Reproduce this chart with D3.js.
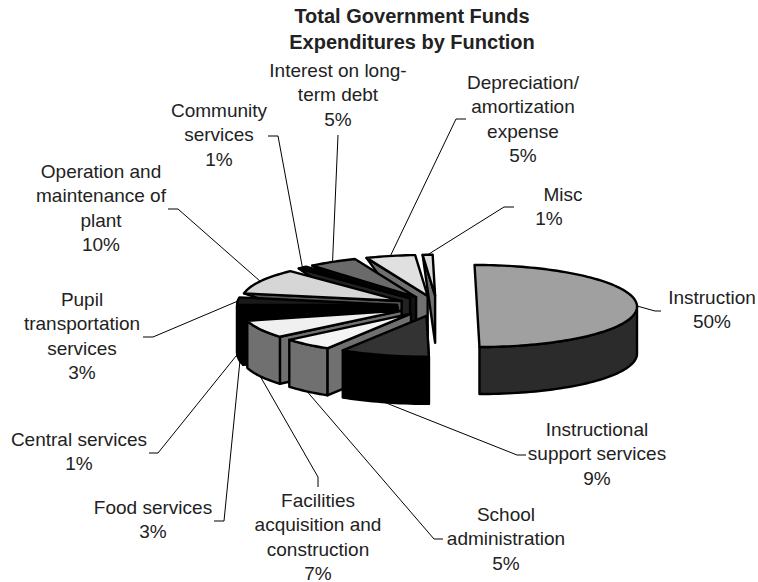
<!DOCTYPE html>
<html>
<head>
<meta charset="utf-8">
<script src="https://cdn.jsdelivr.net/npm/d3@7/dist/d3.min.js"></script>
<style>
html,body{margin:0;padding:0;background:#fff}
text{font-family:"Liberation Sans",Arial,sans-serif;font-size:19px;fill:#222}
</style>
</head>
<body>
<svg id="chart" width="758" height="582"></svg>
<script>
// Share of total government funds expenditure by function, in percent.
const functions = ["Instruction","Instructional support services","School administration",
  "Facilities acquisition and construction","Food services","Central services",
  "Pupil transportation services","Operation and maintenance of plant","Community services",
  "Interest on long-term debt","Depreciation/amortization expense","Misc"];
const shares = [50,9,5,7,3,1,3,10,1,5,5,1];
const topFills  = ["#a0a0a0","#333333","#f4f4f4","#f0f0f0","#000000","#111111","#1a1a1a","#d6d6d6","#000000","#6a6a6a","#e0e0e0","#dcdcdc"];
const wallFills = ["#2b2b2b","#000000","#707070","#707070","#000000","#000000","#000000","#555555","#222222","#111111","#707070","#707070"];

// Wrapped label lines, one list per slice; the last line is the percentage.
const labelLines = [
  ["Instruction","50%"],
  ["Instructional","support services","9%"],
  ["School","administration","5%"],
  ["Facilities","acquisition and","construction","7%"],
  ["Food services","3%"],
  ["Central services","1%"],
  ["Pupil","transportation","services","3%"],
  ["Operation and","maintenance of","plant","10%"],
  ["Community","services","1%"],
  ["Interest on long-","term debt","5%"],
  ["Depreciation/","amortization","expense","5%"],
  ["Misc","1%"]
];

// Label placement: text centre, first baseline, the leader's tail beside the text
// and the elbow where it turns toward the slice. firstDx nudges the first line.
const labelLayout = [
  {x:712,y:304,tail:[661,311],elbow:[655,311]},
  {x:597,y:436,tail:[526,455],elbow:[517,455]},
  {x:506,y:521,tail:[443,539],elbow:[434,539]},
  {x:318,y:507,tail:[318,487],elbow:[318,477]},
  {x:153,y:514,tail:[214,521],elbow:[224,521]},
  {x:79,y:446,tail:[149,453],elbow:[158,453]},
  {x:82,y:306,tail:[143,337],elbow:[153,337]},
  {x:101,y:178,tail:[168,209],elbow:[178,209]},
  {x:219,y:117,tail:[268,136],elbow:[278,136]},
  {x:338,y:77,tail:[338,135],elbow:[338,135]},
  {x:523,y:89,tail:[466,119],elbow:[456,119]},
  {x:549,y:201,tail:[514,207],elbow:[504,207],firstDx:14}
];

const svg = d3.select("#chart");

// Ellipse geometry of the tilted pie, expressed as scales over the unit circle.
const rimX = d3.scaleLinear().domain([-1,1]).range([277,597]);
const rimY = d3.scaleLinear().domain([-1,1]).range([265,347]);
const thickness = 47, explodeRatio = 0.25, shear = 0.06, midY = 306, lineStep = 24.3;

const arcs = d3.pie().sort(null).value(d => d)(shares);

function offsetOf(a){
  const mid = (a.startAngle + a.endAngle) / 2;
  return [Math.sin(mid) * explodeRatio, -Math.cos(mid) * explodeRatio];
}
// Lean the ellipse slightly so nearer points sit further right, as in a perspective view.
function place(u, v){
  const y = rimY(v);
  return [rimX(u) + shear * (y - midY), y];
}
function rimPoint(a, angle){
  const [ex, ey] = offsetOf(a);
  return place(ex + Math.sin(angle), ey - Math.cos(angle));
}
function apexPoint(a){
  const [ex, ey] = offsetOf(a);
  return place(ex, ey);
}
function rimRun(a, from, to){
  const n = Math.max(2, Math.ceil(Math.abs(to - from) / 0.03));
  return d3.range(n + 1).map(i => rimPoint(a, from + (to - from) * i / n));
}
const drop = pts => pts.map(([x, y]) => [x, y + thickness]);
const poly = pts => "M" + pts.map(p => p.join(",")).join("L") + "Z";

const slices = arcs.map((a, i) => ({a, i}));
// Painter's order: from the narrow back slice round to the front, the largest slice last.
const paintOrder = slices.slice().reverse();

const g = svg.append("g").attr("stroke", "#000").attr("stroke-width", 2.4).attr("stroke-linejoin", "round");

paintOrder.forEach(({a, i}) => {
  const apex = apexPoint(a);
  // Radial cut face along the leading edge, seen only on the left half.
  // Rear slices recede, so their face tapers to a point at the rim.
  if (a.startAngle >= Math.PI - 1e-6) {
    const r = rimPoint(a, a.startAngle);
    const lowApex = [apex[0], apex[1] + thickness];
    const rear = Math.cos(a.startAngle) > 0.01;
    const face = rear ? [r, apex, lowApex] : [r, apex, lowApex, [r[0], r[1] + thickness]];
    g.append("path").attr("d", poly(face)).attr("fill", wallFills[i]);
  }
  // Outer wall, only the part of the rim facing the viewer.
  let wallFrom = a.startAngle, wallTo = a.endAngle;
  if (i === 0) { wallFrom = Math.PI / 2; wallTo = Math.PI; }
  if (wallFrom < 1.5 * Math.PI) {
    wallTo = Math.min(wallTo, 1.5 * Math.PI);
    const run = rimRun(a, wallFrom, wallTo);
    g.append("path").attr("d", poly(run.concat(drop(run).reverse()))).attr("fill", wallFills[i]);
  }
  // Top face.
  g.append("path").attr("d", poly([apex].concat(rimRun(a, a.startAngle, a.endAngle)))).attr("fill", topFills[i]);
});

// Leader lines run from each label's tail through its elbow to the rim at the slice's mid-angle.
const leaders = svg.append("g").attr("stroke", "#000").attr("stroke-width", 1).attr("fill", "none");
arcs.forEach((a, i) => {
  const mid = (a.startAngle + a.endAngle) / 2;
  const p = rimPoint(a, mid);
  const end = Math.cos(mid) < -0.01 ? [p[0], p[1] + thickness] : p;
  leaders.append("path").attr("d", d3.line()([labelLayout[i].tail, labelLayout[i].elbow, end]));
});

// Slice labels.
labelLines.forEach((lines, i) => {
  const t = svg.append("text").attr("text-anchor", "middle");
  const layout = labelLayout[i];
  lines.forEach((line, k) => {
    t.append("tspan")
      .attr("x", layout.x + (k === 0 && layout.firstDx ? layout.firstDx : 0))
      .attr("y", layout.y + k * lineStep)
      .text(line);
  });
});

// Two-line title.
const titleLines = ["Total Government Funds","Expenditures by Function"];
const title = svg.append("text").attr("text-anchor", "middle").style("font-weight", "bold").style("font-size", "20px");
titleLines.forEach((line, k) => {
  title.append("tspan").attr("x", 412).attr("y", 23 + k * 26).text(line);
});
</script>
</body>
</html>
